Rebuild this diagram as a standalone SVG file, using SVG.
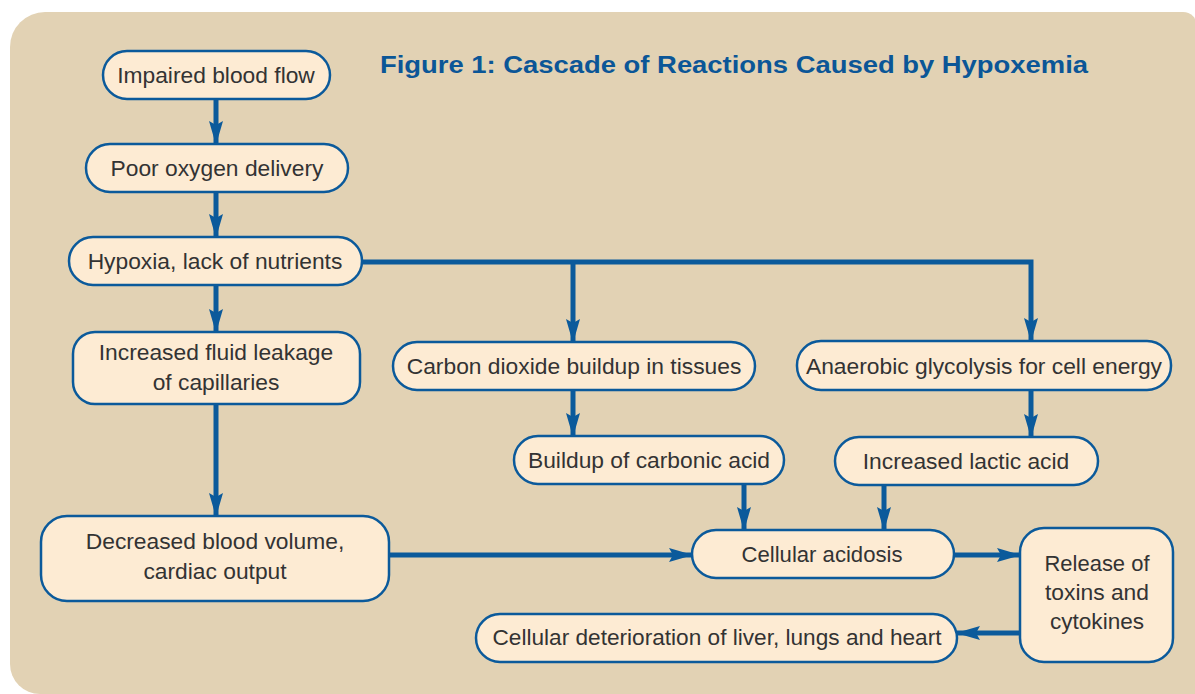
<svg xmlns="http://www.w3.org/2000/svg" width="1195" height="694" viewBox="0 0 1195 694">
<style>
.node rect{fill:#fdebd3;stroke:#0b5a9b;stroke-width:2.5}
.node text{font-family:"Liberation Sans",Arial,sans-serif;font-size:22.8px;fill:#333;text-anchor:middle}
.conn path{fill:none;stroke:#0b5a9b;stroke-width:5;marker-end:url(#ah)}
.title{font-family:"Liberation Sans",Arial,sans-serif;font-weight:bold;font-size:23px;fill:#0b5697}
</style>
<defs>
<marker id="ah" markerUnits="userSpaceOnUse" viewBox="0 0 24 14" refX="23" refY="7" markerWidth="24" markerHeight="14" orient="auto">
<path d="M0,0 L24,7 L0,14 L4,7 z" fill="#0b5a9b"/>
</marker>
</defs>
<rect width="1195" height="694" fill="#ffffff"/>
<path d="M45,12 H1183 A14,14 0 0 1 1197,26 V694 H40 A30,30 0 0 1 10,664 V47 A35,35 0 0 1 45,12 Z" fill="#e2d2b4"/>
<text class="title" x="380" y="73" textLength="708" lengthAdjust="spacingAndGlyphs">Figure 1: Cascade of Reactions Caused by Hypoxemia</text>
<g class="conn">
<path d="M216,99 V144"/>
<path d="M216,192 V237"/>
<path d="M216,285 V332"/>
<path d="M216,404 V516"/>
<path d="M362,262 H1031 V341" stroke-linejoin="miter"/>
<path d="M573,262 V342"/>
<path d="M573,390 V436"/>
<path d="M1031,390 V437"/>
<path d="M744,484 V530"/>
<path d="M884,485 V530"/>
<path d="M389,555 H692"/>
<path d="M954,555 H1020"/>
<path d="M1020,633 H957"/>
</g>
<g id="n1" class="node"><rect x="103" y="51" width="227" height="48" rx="24"/><text x="216" y="83">Impaired blood flow</text></g>
<g id="n2" class="node"><rect x="86" y="144" width="262" height="48" rx="24"/><text x="217" y="176">Poor oxygen delivery</text></g>
<g id="n3" class="node"><rect x="69" y="237" width="293" height="48" rx="24"/><text x="215" y="269">Hypoxia, lack of nutrients</text></g>
<g id="n4" class="node"><rect x="73" y="332" width="287" height="72" rx="22"/><text x="216" y="360">Increased fluid leakage</text><text x="216" y="390">of capillaries</text></g>
<g id="n5" class="node"><rect x="393" y="342" width="362" height="48" rx="24"/><text x="574" y="374">Carbon dioxide buildup in tissues</text></g>
<g id="n6" class="node"><rect x="797" y="341" width="374" height="49" rx="24"/><text x="984" y="374">Anaerobic glycolysis for cell energy</text></g>
<g id="n7" class="node"><rect x="514" y="436" width="270" height="48" rx="24"/><text x="649" y="468">Buildup of carbonic acid</text></g>
<g id="n8" class="node"><rect x="835" y="437" width="263" height="48" rx="24"/><text x="966" y="469">Increased lactic acid</text></g>
<g id="n9" class="node"><rect x="41" y="516" width="348" height="85" rx="26"/><text x="215" y="549">Decreased blood volume,</text><text x="215" y="579">cardiac output</text></g>
<g id="n10" class="node"><rect x="692" y="530" width="262" height="48" rx="24"/><text x="822" y="562" textLength="161" lengthAdjust="spacingAndGlyphs">Cellular acidosis</text></g>
<g id="n11" class="node"><rect x="1020" y="528" width="153" height="134" rx="24"/><text x="1097" y="571" textLength="105" lengthAdjust="spacingAndGlyphs">Release of</text><text x="1097" y="600" textLength="104" lengthAdjust="spacingAndGlyphs">toxins and</text><text x="1097" y="629" textLength="94" lengthAdjust="spacingAndGlyphs">cytokines</text></g>
<g id="n12" class="node"><rect x="476" y="614" width="481" height="48" rx="24"/><text x="717" y="645" textLength="449" lengthAdjust="spacingAndGlyphs">Cellular deterioration of liver, lungs and heart</text></g>
</svg>
